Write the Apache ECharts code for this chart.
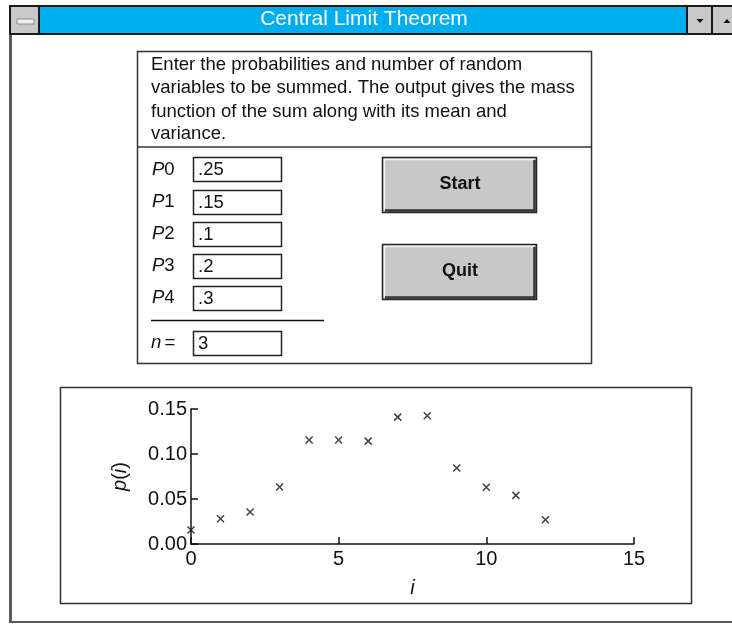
<!DOCTYPE html>
<html>
<head>
<meta charset="utf-8">
<script src="https://cdn.jsdelivr.net/npm/echarts@6/dist/echarts.min.js"></script>
<style>
html,body{margin:0;padding:0;background:#fff;}
#chart{width:732px;height:625px;}
</style>
</head>
<body>
<div id="chart"></div>
<script>
// ---- data ----
var windowTitle = 'Central Limit Theorem';
var introLines = [
  'Enter the probabilities and number of random',
  'variables to be summed. The output gives the mass',
  'function of the sum along with its mean and',
  'variance.'
];
var probLabels = ['0', '1', '2', '3', '4'];
var probValues = ['.25', '.15', '.1', '.2', '.3'];
var nValue = '3';
var buttonLabels = ['Start', 'Quit'];
var sumValues = [0, 1, 2, 3, 4, 5, 6, 7, 8, 9, 10, 11, 12];
var massValues = [0.0156, 0.0281, 0.0356, 0.0634, 0.1155, 0.1155, 0.1143, 0.141, 0.1425, 0.0845, 0.063, 0.054, 0.027];
var xTicks = [0, 5, 10, 15];
var yTicks = [0.00, 0.05, 0.10, 0.15];

var FONT = '"Liberation Sans", Arial, Helvetica, sans-serif';
var chart = echarts.init(document.getElementById('chart'), null, {renderer: 'canvas'});

var g = [];
// window frame
g.push({type:'rect', shape:{x:9,y:5,width:3,height:618}, style:{fill:'#5a5a5a'}, z:1});
g.push({type:'rect', shape:{x:9,y:621,width:723,height:2}, style:{fill:'#5a5a5a'}, z:1});
// title bar
g.push({type:'rect', shape:{x:9,y:5,width:723,height:30}, style:{fill:'#1a1a1a'}, z:1});
g.push({type:'rect', shape:{x:40,y:7,width:646,height:26}, style:{fill:'#00AEEF'}, z:2});
g.push({type:'rect', shape:{x:11,y:7,width:27,height:26}, style:{fill:'#c9c9c9'}, z:2});
g.push({type:'rect', shape:{x:17,y:19,width:17,height:5}, style:{fill:'#f2f2f2', stroke:'#8a8a8a', lineWidth:1}, z:3});
g.push({type:'rect', shape:{x:688,y:7,width:23,height:26}, style:{fill:'#c9c9c9'}, z:2});
g.push({type:'rect', shape:{x:713,y:7,width:19,height:26}, style:{fill:'#c9c9c9'}, z:2});
g.push({type:'polygon', shape:{points:[[696.5,19],[703.5,19],[700,23]]}, style:{fill:'#111'}, z:3});
g.push({type:'polygon', shape:{points:[[723.5,23],[730.5,23],[727,19]]}, style:{fill:'#111'}, z:3});

// text panel
g.push({type:'rect', shape:{x:137.5,y:51.5,width:454,height:312}, style:{fill:'none', stroke:'#333', lineWidth:1.5}, z:2});
g.push({type:'line', shape:{x1:137.5,y1:147,x2:591.5,y2:147}, style:{stroke:'#333', lineWidth:1.5}, z:2});
var lineY = [65, 88, 112, 134];
introLines.forEach(function(t, i){
  g.push({type:'text', x:151, y:lineY[i], style:{text:t, fill:'#111', font:'18.5px ' + FONT, textVerticalAlign:'middle'}, z:3});
});
var rowY = [169.5, 202, 234, 266, 298];
var boxTop = [157, 190, 222, 254, 286];
probLabels.forEach(function(lab, i){
  g.push({type:'text', x:152, y:rowY[i], style:{
    rich:{it:{fontStyle:'italic', fontSize:18.5, fontFamily:FONT, fill:'#111'}, n:{fontSize:18.5, fontFamily:FONT, fill:'#111'}},
    text:'{it|P}{n|' + lab + '}', textVerticalAlign:'middle'}, z:3});
  g.push({type:'rect', shape:{x:193.5,y:boxTop[i]+0.5,width:88,height:24}, style:{fill:'#fff', stroke:'#222', lineWidth:1.5}, z:3});
  g.push({type:'text', x:198, y:boxTop[i]+13, style:{text:probValues[i], fill:'#111', font:'18.5px ' + FONT, textVerticalAlign:'middle'}, z:4});
});
g.push({type:'line', shape:{x1:151,y1:320.5,x2:324,y2:320.5}, style:{stroke:'#111', lineWidth:1.5}, z:3});
g.push({type:'text', x:151, y:343, style:{
  rich:{it:{fontStyle:'italic', fontSize:18.5, fontFamily:FONT, fill:'#111'}, n:{fontSize:18.5, fontFamily:FONT, fill:'#111'}},
  text:'{it|n} {n|=}', textVerticalAlign:'middle'}, z:3});
g.push({type:'rect', shape:{x:193.5,y:331.5,width:88,height:24}, style:{fill:'#fff', stroke:'#222', lineWidth:1.5}, z:3});
g.push({type:'text', x:198, y:344, style:{text:nValue, fill:'#111', font:'18.5px ' + FONT, textVerticalAlign:'middle'}, z:4});

// buttons
var btnTop = [157, 244];
buttonLabels.forEach(function(lab, i){
  var y0 = btnTop[i], x0 = 382, w = 154, h = 55;
  g.push({type:'rect', shape:{x:x0+0.5,y:y0+0.5,width:w,height:h}, style:{fill:'#c8c8c8', stroke:'#222', lineWidth:1.5}, z:3});
  g.push({type:'polyline', shape:{points:[[x0+2.5,y0+h-2],[x0+2.5,y0+2.5],[x0+w-2,y0+2.5]]}, style:{stroke:'#f4f4f4', lineWidth:1.5, fill:'none'}, z:4});
  g.push({type:'polyline', shape:{points:[[x0+3,y0+h-1.5],[x0+w-1.5,y0+h-1.5],[x0+w-1.5,y0+3]]}, style:{stroke:'#333', lineWidth:2.5, fill:'none'}, z:4});
  g.push({type:'text', x:x0+w/2+1, y:y0+h/2, style:{text:lab, fill:'#111', font:'bold 18px ' + FONT, textAlign:'center', textVerticalAlign:'middle'}, z:5});
});

// plot frame
g.push({type:'rect', shape:{x:60.5,y:387.5,width:631,height:216}, style:{fill:'none', stroke:'#333', lineWidth:1.5}, z:2});

chart.setOption({
  animation: false,
  backgroundColor: '#fff',
  title: {
    text: windowTitle, left: 364, top: 9, padding: 0, textAlign: 'center',
    textStyle: {color:'#fff', fontSize:21, fontWeight:'normal', fontFamily:FONT}, z: 10
  },
  graphic: g,
  grid: {left:191, right:98, top:409, bottom:81, containLabel:false},
  xAxis: {
    type:'value', min:0, max:15, interval:5,
    name:'i', nameLocation:'middle', nameGap:34,
    nameTextStyle:{fontStyle:'italic', fontSize:20, fontFamily:FONT, color:'#111'},
    axisLine:{show:true, onZero:false, lineStyle:{color:'#111', width:1.5}},
    axisTick:{show:true, inside:true, length:7, lineStyle:{color:'#111', width:1.5}},
    axisLabel:{fontSize:20, fontFamily:FONT, color:'#111', margin:5, showMinLabel:true, showMaxLabel:true},
    splitLine:{show:false}
  },
  yAxis: {
    type:'value', min:0, max:0.15, interval:0.05,
    name:'{it|p}{n|(}{it|i}{n|)}', nameLocation:'middle', nameGap:61, nameRotate:90,
    nameTextStyle:{fontSize:20, fontFamily:FONT, color:'#111',
      rich:{it:{fontStyle:'italic', fontSize:20, fontFamily:FONT, color:'#111'}, n:{fontSize:20, fontFamily:FONT, color:'#111'}}},
    axisLine:{show:true, onZero:false, lineStyle:{color:'#111', width:1.5}},
    axisTick:{show:true, inside:true, length:7, lineStyle:{color:'#111', width:1.5}},
    axisLabel:{fontSize:20, fontFamily:FONT, color:'#111', margin:4,
      formatter:function(v){ return v.toFixed(2); }},
    splitLine:{show:false}
  },
  series: [{
    type:'scatter',
    data: sumValues.map(function(x, i){ return [x, massValues[i]]; }),
    symbol:'path://M0,0L10,10M10,0L0,10',
    symbolSize:7,
    itemStyle:{color:'rgba(0,0,0,0)', borderColor:'#111', borderWidth:1.5},
    clip:false
  }]
});
</script>
</body>
</html>
